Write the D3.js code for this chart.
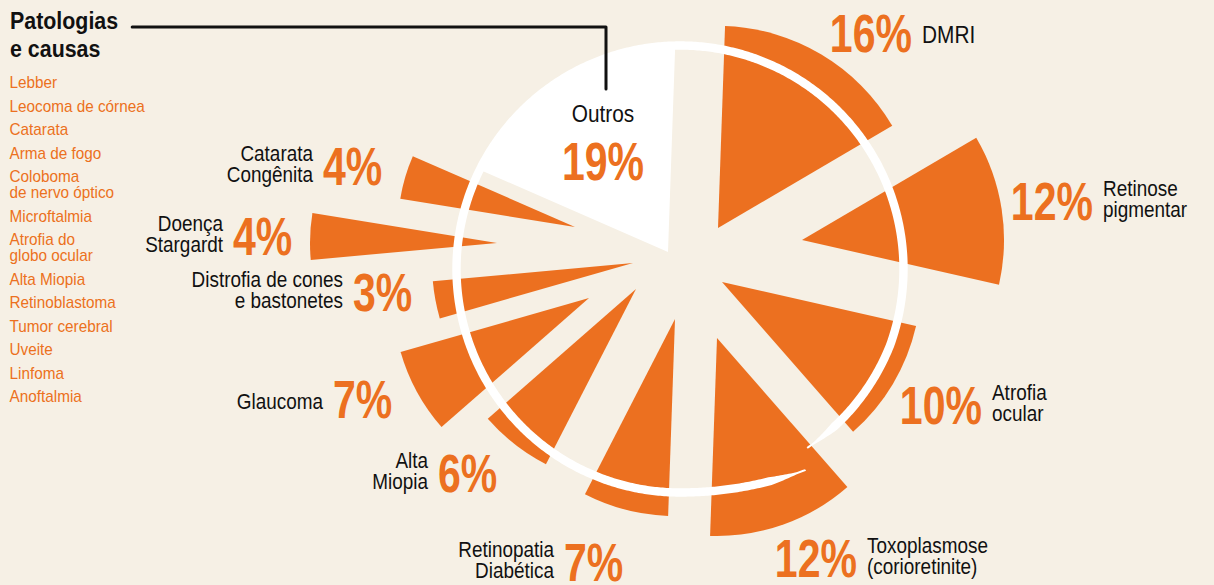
<!DOCTYPE html>
<html>
<head>
<meta charset="utf-8">
<script src="https://cdn.jsdelivr.net/npm/d3@7"></script>
<style>
  html, body { margin: 0; padding: 0; background: #f6f0e5; }
  svg { display: block; }
  text { font-family: "Liberation Sans", Arial, sans-serif; }
</style>
</head>
<body>
<svg id="chart" width="1214" height="585"></svg>
<script>
// Data
  var causes = ['DMRI', 'Retinose pigmentar', 'Atrofia ocular', 'Toxoplasmose (corioretinite)',
                'Retinopatia Diabética', 'Alta Miopia', 'Glaucoma', 'Distrofia de cones e bastonetes',
                'Doença Stargardt', 'Catarata Congênita', 'Outros'];
  var causeLines = [['DMRI'], ['Retinose', 'pigmentar'], ['Atrofia', 'ocular'], ['Toxoplasmose', '(corioretinite)'],
                    ['Retinopatia', 'Diabética'], ['Alta', 'Miopia'], ['Glaucoma'], ['Distrofia de cones', 'e bastonetes'],
                    ['Doença', 'Stargardt'], ['Catarata', 'Congênita'], ['Outros']];
  var shares = [16, 12, 10, 12, 7, 6, 7, 3, 4, 4, 19];
  var otherCauses = [['Lebber'], ['Leocoma de córnea'], ['Catarata'], ['Arma de fogo'], ['Coloboma', 'de nervo óptico'],
                     ['Microftalmia'], ['Atrofia do', 'globo ocular'], ['Alta Miopia'], ['Retinoblastoma'],
                     ['Tumor cerebral'], ['Uveite'], ['Linfoma'], ['Anoftalmia']];

// Layout of the exploded pieces (hand placed in the original)
  var cx = 680, cy = 269;
  var explode = [[38, -41], [122, -29], [42, 13], [37, 69], [-5, 50], [-44, 20],
                 [-91, 29], [-47, -6], [-183, -26], [-105, -42], [-12, -17]];
  var reach = [202, 202, 199, 198, 197, 197, 196, 201, 187, 177, 203];
  var labelAt = [[917, 52], [1098, 220], [987, 424], [862, 577], [559, 581], [433, 492],
                 [328, 418], [348, 311], [228, 255], [318, 185], [603, 180]];
  var labelSide = ['r', 'r', 'r', 'r', 'l', 'l', 'l', 'l', 'l', 'l', 'c'];

  var orange = '#ec7020';
  var deg = Math.PI / 180;
  var svg = d3.select('#chart');

  // condensed look: squeeze each text run horizontally
  function squeeze(sel, f) {
    sel.each(function() {
      var w = this.getComputedTextLength();
      d3.select(this).attr('textLength', w * f).attr('lengthAdjust', 'spacingAndGlyphs');
    });
  }

// Slices
  var pie = d3.pie().sort(null).value(d => d)
    .startAngle(2 * deg).endAngle(362 * deg);
  var arc = d3.arc().innerRadius(0);

  svg.append('g').selectAll('path')
    .data(pie(shares))
    .join('path')
      .attr('transform', (d, i) => 'translate(' + (cx + explode[i][0]) + ',' + (cy + explode[i][1]) + ')')
      .attr('d', (d, i) => arc.outerRadius(reach[i])(d))
      .attr('fill', (d, i) => causes[i] === 'Outros' ? '#ffffff' : orange);

// White ring, slightly open at the bottom right
  var ringR = 223.5, ringA0 = 148, ringA1 = 504.6;
  function ringRad(a) {
    if (a < 180) { var t = (180 - a) / 32; return ringR + 13.5 * t * t; }
    if (a > 470) { return ringR - 4 * (a - 470) / (ringA1 - 470); }
    return ringR;
  }
  function ringHalf(a) {
    var e = Math.min(a - ringA0, ringA1 - a);
    return Math.max(1, 4.2 * Math.min(1, e / 9));
  }
  var ringSteps = d3.range(ringA0, ringA1, 0.5).concat([ringA1]);
  var ring = d3.areaRadial()
    .angle(a => a * deg)
    .innerRadius(a => ringRad(a) - ringHalf(a))
    .outerRadius(a => ringRad(a) + ringHalf(a));
  svg.append('path')
    .attr('transform', 'translate(' + cx + ',' + cy + ')')
    .attr('d', ring(ringSteps))
    .attr('fill', '#ffffff');

// Slice labels
  var labels = svg.append('g');
  causes.forEach(function(c, i) {
    var x = labelAt[i][0], y = labelAt[i][1], side = labelSide[i];
    var lines = causeLines[i];
    var big = (c === 'DMRI' || c === 'Outros');

    var pct = labels.append('text')
      .attr('y', y)
      .attr('fill', orange)
      .attr('font-weight', 'bold')
      .attr('font-size', 54)
      .text(shares[i] + '%');

    var name = labels.append('text')
      .attr('fill', '#111')
      .attr('font-size', big ? 24.5 : 21.5);

    var nx, anchor, first;
    if (side === 'c') {
      pct.attr('x', x).attr('text-anchor', 'middle');
      nx = x; anchor = 'middle'; first = y - 58;
    } else if (side === 'r') {
      pct.attr('x', x - 5).attr('text-anchor', 'end');
      nx = x + 5; anchor = 'start';
    } else {
      pct.attr('x', x + 5).attr('text-anchor', 'start');
      nx = x - 5; anchor = 'end';
    }
    if (side !== 'c') first = lines.length === 1 ? y - 9 : y - 24;
    name.attr('text-anchor', anchor)
      .selectAll('tspan')
      .data(lines)
      .join('tspan')
        .attr('x', nx)
        .attr('y', (d, k) => first + k * 21)
        .text(d => d);

    squeeze(pct, 0.76);
    squeeze(name.selectAll('tspan'), big ? 0.85 : 0.88);
  });

// Title and list of the other causes
  var title = svg.append('text')
    .attr('font-size', 23)
    .attr('font-weight', 'bold')
    .attr('fill', '#111');
  title.selectAll('tspan')
    .data(['Patologias', 'e causas'])
    .join('tspan')
      .attr('x', 10)
      .attr('y', (d, k) => 29 + k * 27.5)
      .text(d => d);
  squeeze(title.selectAll('tspan'), 0.93);

  var listY = 88, list = svg.append('g');
  otherCauses.forEach(function(lines) {
    var t = list.append('text')
      .attr('font-size', 17)
      .attr('fill', orange);
    t.selectAll('tspan')
      .data(lines)
      .join('tspan')
        .attr('x', 9.5)
        .attr('y', (d, k) => listY + k * 16)
        .text(d => d);
    squeeze(t.selectAll('tspan'), 0.9);
    listY += 23.5 + (lines.length - 1) * 16;
  });

// Leader from the title to "Outros"
  var titleEnd = 10 + title.select('tspan').node().getBBox().width + 14;
  var outros = labelAt[causes.indexOf('Outros')];
  svg.append('path')
    .attr('d', d3.line()([[titleEnd, 27], [outros[0] + 3, 27], [outros[0] + 3, outros[1] - 91]]))
    .attr('fill', 'none')
    .attr('stroke', '#111')
    .attr('stroke-width', 3)
    .attr('stroke-linecap', 'round')
    .attr('stroke-linejoin', 'round');
</script>
</body>
</html>
